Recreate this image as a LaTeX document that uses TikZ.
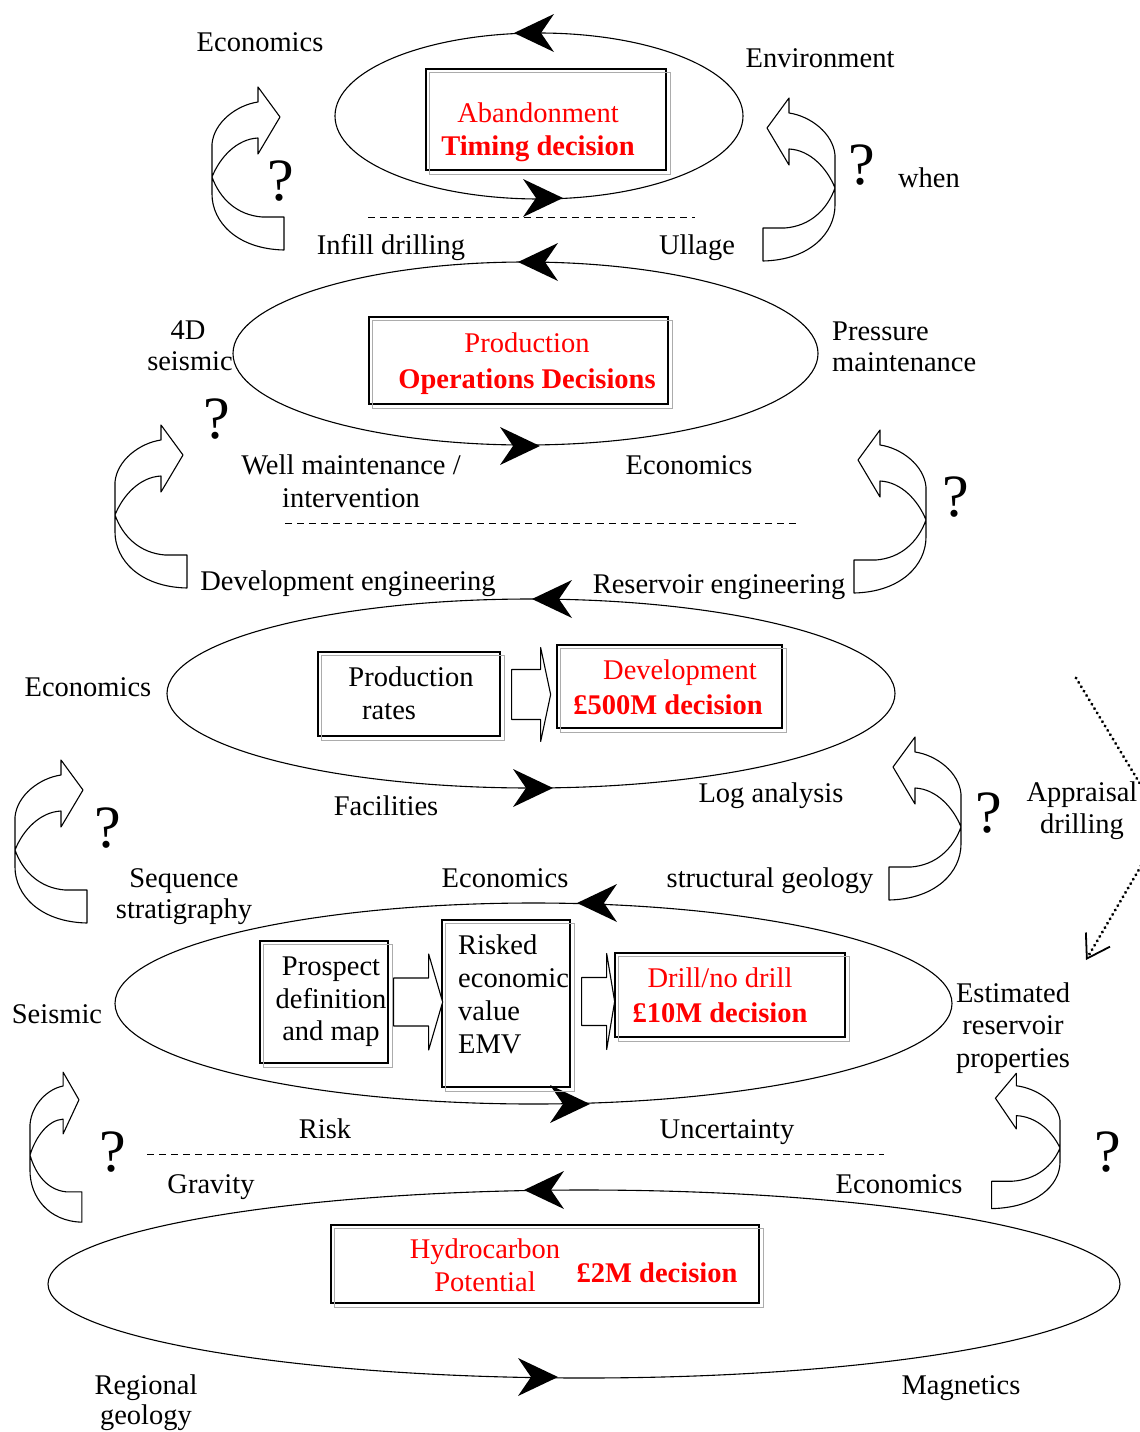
\documentclass[tikz,border=0pt]{standalone}
\usepackage{fontspec}
\setmainfont{Liberation Serif}
\usetikzlibrary{arrows.meta,shapes.geometric}
\tikzset{
  lbl/.style={font=\fontsize{28.5}{33}\selectfont, inner sep=0pt, anchor=base},
  rl/.style={lbl, text=red},
  rb/.style={lbl, text=red, font=\fontsize{28.5}{33}\selectfont\bfseries},
  qm/.style={font=\fontsize{60}{60}\selectfont, inner sep=0pt},
  loopell/.style={draw, ellipse, line width=1.1pt, inner sep=0pt},
  dbox/.style={draw, line width=1.3pt, inner sep=0pt},
  shadebox/.style={draw=gray!65, line width=1.1pt},
  sepline/.style={line width=1pt, dash pattern=on 7pt off 5pt},
  blockarr/.style={line width=1.1pt, fill=white, line join=round},
  tipL/.pic={\fill (0,0) -- (40,-19) -- (27,0) -- (40,19) -- cycle;},
  twist/.pic={\draw[line width=1.1pt, line join=round]
     (72,40) -- (50,40) .. controls (25,38) and (8,22) .. (0,0)
     .. controls (8,-20) and (25,-38) .. (46,-39) -- (46,-23) -- (68,-60)
     -- (46,-90) -- (46,-75) .. controls (25,-72) and (2,-55) .. (0,-33)
     -- (0,17) .. controls (0,45) and (25,72) .. (72,73) -- cycle;},
}
\begin{document}
\begin{tikzpicture}[x=1pt,y=-1pt]
\useasboundingbox (0,0) rectangle (1140,1432);
\fill[white] (0,0) rectangle (1140,1432);
\begin{scope}
\clip (0,0) rectangle (1140,1432);

% ---------- ellipses ----------
\node[loopell, minimum width=408, minimum height=166] (e1) at (539,116) {};
\node[loopell, minimum width=585, minimum height=183] (e2) at (525.5,353.5) {};
\node[loopell, minimum width=728, minimum height=189] (e3) at (531,693.5) {};
\node[loopell, minimum width=837, minimum height=201] (e4) at (533.5,1003.5) {};
\node[loopell, minimum width=1072, minimum height=188] (e5) at (584,1284) {};

% ellipse arrowheads
\pic at (514,33) {tipL};
\pic[xscale=-1] at (563,198) {tipL};
\pic at (518,262) {tipL};
\pic[xscale=-1] at (540,446) {tipL};
\pic at (532,599) {tipL};
\pic[xscale=-1] at (553,788) {tipL};
\pic at (577,903) {tipL};
\pic[xscale=-1] at (590,1104) {tipL};
\pic at (524,1190) {tipL};
\pic[xscale=-1] at (558,1377) {tipL};

% ---------- dashed separators ----------
\coordinate (d1a) at (368,217); \coordinate (d1b) at (695,217);
\coordinate (d2a) at (285,523); \coordinate (d2b) at (798,523);
\coordinate (d3a) at (147,1154); \coordinate (d3b) at (884,1154);
\draw[sepline] (d1a) -- (d1b);
\draw[sepline] (d2a) -- (d2b);
\draw[sepline] (d3a) -- (d3b);

% ---------- boxes ----------
\node[dbox, minimum width=240, minimum height=101] (b1) at (546,119.5) {};
\node[dbox, minimum width=299, minimum height=87] (b2) at (518.5,360.5) {};
\node[dbox, minimum width=182, minimum height=84] (pr) at (409,694) {};
\node[dbox, minimum width=225, minimum height=83] (dev) at (669.5,686.5) {};
\node[dbox, minimum width=128, minimum height=122] (pd) at (324,1002) {};
\node[dbox, minimum width=128, minimum height=167] (re) at (506,1003.5) {};
\node[dbox, minimum width=230, minimum height=84] (dd) at (730,995) {};
\node[dbox, minimum width=428, minimum height=78] (hc) at (545,1264) {};
\foreach \b in {b1,b2,pr,dev,pd,re,dd,hc}{
  \draw[shadebox] ([shift={(4,4)}]\b.north west) rectangle ([shift={(4,4)}]\b.south east);
}

% block arrows
\draw[blockarr] ([shift={(11,-24.5)}]pr.east) -- ++(29,0) -- ++(0,-22) -- ++(10,47)
   -- ++(-10,47) -- ++(0,-22) -- ++(-29,0) -- cycle;
\draw[blockarr] ([shift={(5,-24)}]pd.east) -- ++(35,0) -- ++(0,-24) -- ++(14,48)
   -- ++(-14,48) -- ++(0,-24) -- ++(-35,0) -- cycle;
\draw[blockarr] ([shift={(11,-26)}]re.east) -- ++(25,0) -- ++(0,-24) -- ++(8,48)
   -- ++(-8,48) -- ++(0,-24) -- ++(-25,0) -- cycle;

% box texts
\node[rl] (tx_ab) at (538,122) {Abandonment};
\node[rb] (tx_td) at (538,155) {Timing decision};
\node[rl] (tx_pr) at (527,352) {Production};
\node[rb] (tx_od) at (527,388) {Operations Decisions};
\node[lbl] (tx_prr) at (411,686) {Production};
\node[lbl, anchor=base west] (tx_rates) at (362,719) {rates};
\node[rl] (tx_dev) at (680,679) {Development};
\node[rb] (tx_500) at (668,714) {£500M decision};
\node[lbl] (tx_pros) at (331,975) {Prospect};
\node[lbl] (tx_def) at (331,1008) {definition};
\node[lbl] (tx_map) at (331,1040) {and map};
\node[lbl, anchor=base west] (tx_risk) at (458,954) {Risked};
\node[lbl, anchor=base west] (tx_eco) at (458,987) {economic};
\node[lbl, anchor=base west] (tx_val) at (458,1020) {value};
\node[lbl, anchor=base west] (tx_emv) at (458,1053) {EMV};
\node[rl] (tx_dnd) at (720,987) {Drill/no drill};
\node[rb] (tx_10) at (720,1022) {£10M decision};
\node[rl] (tx_hyd) at (485,1258) {Hydrocarbon};
\node[rl] (tx_pot) at (485,1291) {Potential};
\node[rb] (tx_2m) at (657,1282) {£2M decision};

% ---------- labels ----------
\node[lbl] (t_econ1) at (260,51) {Economics};
\node[lbl] (t_env) at (820,67) {Environment};
\node[qm] (q1) at (281,181) {?};
\node[qm] (q2) at (862,165) {?};
\node[lbl] (t_when) at (929,187) {when};
\node[lbl] (t_infill) at (391,254) {Infill drilling};
\node[lbl] (t_ullage) at (697,254) {Ullage};
\node[lbl] (t_4d) at (188,339) {4D};
\node[lbl] (t_seis4d) at (190,370) {seismic};
\node[lbl, anchor=base west] (t_press) at (832,340) {Pressure};
\node[lbl, anchor=base west] (t_maint) at (832,371) {maintenance};
\node[qm] (q3) at (217,419) {?};
\node[lbl] (t_well) at (351,474) {Well maintenance /};
\node[lbl] (t_interv) at (351,507) {intervention};
\node[lbl] (t_econ2) at (689,474) {Economics};
\node[qm] (q4) at (956,497) {?};
\node[lbl] (t_deveng) at (348,590) {Development engineering};
\node[lbl] (t_reseng) at (719,593) {Reservoir engineering};
\node[lbl] (t_econ3) at (88,696) {Economics};
\node[lbl] (t_fac) at (386,815) {Facilities};
\node[lbl] (t_log) at (771,802) {Log analysis};
\node[qm] (q5) at (108,828) {?};
\node[qm] (q6) at (989,813) {?};
\node[lbl] (t_appr) at (1082,801) {Appraisal};
\node[lbl] (t_drl) at (1082,833) {drilling};
\node[lbl] (t_seq) at (184,887) {Sequence};
\node[lbl] (t_strat) at (184,918) {stratigraphy};
\node[lbl] (t_econ4) at (505,887) {Economics};
\node[lbl] (t_struct) at (770,887) {structural geology};
\node[lbl] (t_seis) at (57,1023) {Seismic};
\node[lbl] (t_est) at (1013,1002) {Estimated};
\node[lbl] (t_res) at (1013,1034) {reservoir};
\node[lbl] (t_prop) at (1013,1067) {properties};
\node[lbl] (t_risk) at (325,1138) {Risk};
\node[lbl] (t_unc) at (727,1138) {Uncertainty};
\node[qm] (q7) at (113,1152) {?};
\node[qm] (q8) at (1108,1152) {?};
\node[lbl] (t_grav) at (211,1193) {Gravity};
\node[lbl] (t_econ5) at (899,1193) {Economics};
\node[lbl] (t_reg) at (146,1394) {Regional};
\node[lbl] (t_geo) at (146,1424) {geology};
\node[lbl] (t_mag) at (961,1394) {Magnetics};

% ---------- twisted feedback arrows ----------
\pic at (212,177) {twist};
\pic at (115,515) {twist};
\pic at (15,850) {twist};
\pic[xscale=0.72, yscale=0.92] at (30,1155) {twist};
\pic[xscale=-1] at (835,188) {twist};
\pic[xscale=-1] at (926,520) {twist};
\pic[xscale=-1] at (961,827) {twist};
\pic[xscale=-0.95, yscale=0.83] at (1060,1148) {twist};

% ---------- dotted appraisal arrow ----------
\coordinate (ap1) at (1076,678);
\coordinate (ap2) at (1165,825);
\coordinate (ap3) at (1086,960);
\draw[line width=3.2pt, line cap=round, dash pattern=on 0.1pt off 5pt,
      -{Straight Barb[length=22pt,width=28pt,line width=1.8pt]}] (ap1) -- (ap2) -- (ap3);
\end{scope}
\end{tikzpicture}
\end{document}
